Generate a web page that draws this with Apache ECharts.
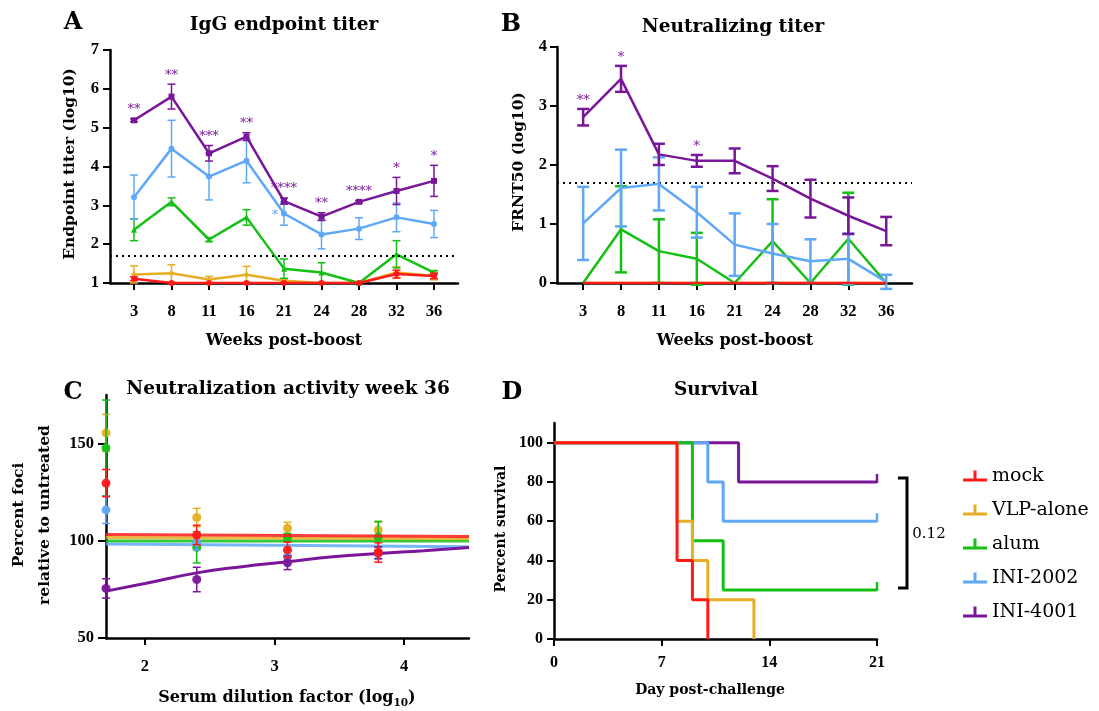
<!DOCTYPE html>
<html><head><meta charset="utf-8">
<script src="https://cdn.jsdelivr.net/npm/echarts@6/dist/echarts.min.js"></script>
<style>html,body{margin:0;padding:0;background:#fff}#c{width:1099px;height:711px}</style>
</head><body><div id="c"></div>
<script>
// ---------- data ----------
const groups = ['mock', 'VLP-alone', 'alum', 'INI-2002', 'INI-4001'];
const colors = ['#ff1a1a', '#e6ae22', '#14c014', '#5ea8f7', '#7a1699'];
const weeks = ['3', '8', '11', '16', '21', '24', '28', '32', '36'];

// Panel A: IgG endpoint titer (log10)
const A_mock = [1.11, 1.0, 1.0, 1.0, 1.0, 1.0, 1.0, 1.23, 1.18];
const A_mock_err = [0.05, 0, 0, 0, 0, 0, 0, 0.1, 0.07];
const A_vlp = [1.22, 1.25, 1.09, 1.21, 1.06, 1.0, 1.0, 1.27, 1.18];
const A_vlp_err = [0.22, 0.22, 0.08, 0.22, 0.04, 0, 0, 0.15, 0.1];
const A_alum = [2.37, 3.09, 2.12, 2.69, 1.37, 1.27, 1.0, 1.74, 1.27];
const A_alum_err = [0.28, 0.1, 0.05, 0.2, 0.25, 0.25, 0, 0.35, 0.05];
const A_2002 = [3.21, 4.46, 3.74, 4.15, 2.79, 2.25, 2.40, 2.69, 2.52];
const A_2002_err = [0.57, 0.73, 0.6, 0.57, 0.3, 0.37, 0.28, 0.37, 0.35];
const A_4001 = [5.19, 5.80, 4.34, 4.77, 3.11, 2.71, 3.09, 3.37, 3.63];
const A_4001_err = [0.04, 0.32, 0.2, 0.1, 0.08, 0.1, 0.03, 0.35, 0.4];
const A_stars = ['**', '**', '***', '**', '****', '**', '****', '*', '*'];
const A_lod = 1.7;

// Panel B: FRNT50 (log10)
const B_mock = [0, 0, 0, 0, 0, 0, 0, 0, 0];
const B_vlp = [0, 0, 0, 0, 0, 0, 0, 0, 0];
const B_alum = [0, 0.91, 0.54, 0.41, 0, 0.71, 0, 0.75, 0];
const B_alum_err = [0, 0.73, 0.54, 0.44, 0, 0.71, 0, 0.78, 0];
const B_2002 = [1.01, 1.61, 1.68, 1.20, 0.65, 0.50, 0.37, 0.41, 0.02];
const B_2002_err = [0.62, 0.65, 0.45, 0.43, 0.53, 0.5, 0.37, 0.43, 0.12];
const B_4001 = [2.81, 3.46, 2.18, 2.07, 2.07, 1.77, 1.43, 1.14, 0.88];
const B_4001_err = [0.14, 0.22, 0.18, 0.1, 0.21, 0.21, 0.32, 0.31, 0.24];
const B_stars = ['**', '*', '', '*', '', '', '', '', ''];
const B_lod = 1.7;

// Panel C: percent foci vs serum dilution (log10)
const C_x = [1.7, 2.4, 3.1, 3.8];
const C_mock = [129.7, 103, 95.3, 94];
const C_mock_err = [7, 5, 4, 5];
const C_vlp = [155.5, 112, 106.5, 105.6];
const C_vlp_err = [9.5, 4.7, 3, 4];
const C_alum = [147.8, 96.6, 101.8, 102];
const C_alum_err = [24.6, 8, 2, 8];
const C_2002 = [115.9, 99.2, 91.8, 93.5];
const C_2002_err = [7, 4, 3, 3];
const C_4001 = [75.5, 80.1, 88.7, 93.9];
const C_4001_err = [5, 6.3, 3.5, 3];
const C_fit_x2 = [1.7, 4.5];
const C_fit_mock = [103.2, 102.2];
const C_fit_vlp = [101.7, 101.1];
const C_fit_alum = [99.9, 99.9];
const C_fit_2002 = [98.4, 97.0];
const C_fit_x = [1.7, 2.0, 2.4, 2.75, 3.1, 3.45, 3.8, 4.15, 4.5];
const C_fit_4001 = [74.1, 78.0, 83.5, 86.7, 89.2, 91.8, 93.5, 94.9, 96.5];

// Panel D: survival (day, percent)
const D_mock = [[0, 100], [8, 40], [9, 20], [10, 0]];
const D_vlp = [[0, 100], [8, 60], [9, 40], [10, 20], [13, 0]];
const D_alum = [[0, 100], [9, 50], [11, 25], [21, 25]];
const D_2002 = [[0, 100], [10, 80], [11, 60], [21, 60]];
const D_4001 = [[0, 100], [12, 80], [21, 80]];

// ---------- helpers ----------
const SERIF = "'DejaVu Serif', serif";
const TICKF = "'Liberation Serif', serif";
const idx = weeks.map((_, i) => i);

function axisBase(extra) {
  return Object.assign({
    type: 'value',
    splitLine: { show: false },
    axisLine: { show: true, onZero: false, lineStyle: { color: '#000', width: 2.5 } },
    axisTick: { show: true, length: 7, lineStyle: { color: '#000', width: 2 } },
    axisLabel: { color: '#000', fontFamily: TICKF, fontWeight: 'bold', fontSize: 16 }
  }, extra);
}

function errSeries(color, xs, ys, es, ai, cap, lw, z) {
  const data = xs.map((x, i) => [x, ys[i], es[i]]).filter(d => d[2] > 0);
  return {
    type: 'custom', xAxisIndex: ai, yAxisIndex: ai, z: z, silent: true,
    itemStyle: { color: color },
    encode: { x: 0, y: 1 },
    renderItem: function (params, api) {
      const x = api.value(0), y = api.value(1), e = api.value(2);
      const t = api.coord([x, y + e]), b = api.coord([x, y - e]);
      const st = { stroke: color, lineWidth: lw };
      return { type: 'group', children: [
        { type: 'line', shape: { x1: t[0], y1: t[1], x2: b[0], y2: b[1] }, style: st },
        { type: 'line', shape: { x1: t[0] - cap, y1: t[1], x2: t[0] + cap, y2: t[1] }, style: st },
        { type: 'line', shape: { x1: b[0] - cap, y1: b[1], x2: b[0] + cap, y2: b[1] }, style: st }
      ] };
    },
    data: data
  };
}

function starSeries(color, xs, tops, labels, ai, dy) {
  const data = xs.map((x, i) => [x, tops[i], i]).filter(d => labels[d[2]]);
  return {
    type: 'custom', xAxisIndex: ai, yAxisIndex: ai, z: 20, silent: true,
    encode: { x: 0, y: 1 },
    renderItem: function (params, api) {
      const p = api.coord([api.value(0), api.value(1)]);
      return { type: 'text', x: p[0], y: p[1] - dy,
        style: { text: labels[api.value(2)], fill: color, font: '13px ' + SERIF,
          textAlign: 'center', textVerticalAlign: 'middle', align: 'center', verticalAlign: 'middle' } };
    },
    data: data
  };
}

const series = [];
const order = [1, 2, 3, 4, 0]; // draw mock last (on top)
const A_vals = [A_mock, A_vlp, A_alum, A_2002, A_4001];
const A_errs = [A_mock_err, A_vlp_err, A_alum_err, A_2002_err, A_4001_err];
const A_sym = ['circle', 'diamond', 'triangle', 'circle', 'rect'];
const B_vals = [B_mock, B_vlp, B_alum, B_2002, B_4001];
const B_errs = [null, null, B_alum_err, B_2002_err, B_4001_err];
const C_vals = [C_mock, C_vlp, C_alum, C_2002, C_4001];
const C_errs = [C_mock_err, C_vlp_err, C_alum_err, C_2002_err, C_4001_err];
const D_vals = [D_mock, D_vlp, D_alum, D_2002, D_4001];

// Panel D first so legend picks these colours
[4, 3, 2, 1, 0].forEach((g, k) => {
  series.push({
    type: 'line', name: groups[g], xAxisIndex: 3, yAxisIndex: 3, step: 'end',
    data: D_vals[g], symbol: 'none', z: 5 + k,
    lineStyle: { color: colors[g], width: 3 }, itemStyle: { color: colors[g] }
  });
});
// censor ticks at day 21
series.push({
  type: 'custom', xAxisIndex: 3, yAxisIndex: 3, z: 12, silent: true,
  encode: { x: 0, y: 1 },
  renderItem: function (params, api) {
    const p = api.coord([api.value(0), api.value(1)]);
    const c = colors[api.value(2)];
    return { type: 'line', shape: { x1: p[0], y1: p[1] + 1, x2: p[0], y2: p[1] - 8 },
      style: { stroke: c, lineWidth: 2.5 } };
  },
  data: [2, 3, 4].map(g => [D_vals[g][D_vals[g].length - 1][0], D_vals[g][D_vals[g].length - 1][1], g])
});

order.forEach((g, k) => {
  // A
  series.push(errSeries(colors[g], idx, A_vals[g], A_errs[g], 0, 4, 1.5, 3 + k));
  series.push({
    type: 'line', name: groups[g], xAxisIndex: 0, yAxisIndex: 0,
    data: idx.map(i => [i, A_vals[g][i]]), symbol: A_sym[g], symbolSize: 6, z: 3 + k,
    lineStyle: { color: colors[g], width: 2.5 }, itemStyle: { color: colors[g] },
    markLine: g === 0 ? { silent: true, symbol: 'none', label: { show: false },
      lineStyle: { type: [2, 4], color: '#000', width: 2 }, data: [{ yAxis: A_lod }] } : undefined
  });
  // B
  if (B_errs[g]) series.push(errSeries(colors[g], idx, B_vals[g], B_errs[g], 1, 6, 2.5, 3 + k));
  series.push({
    type: 'line', name: groups[g], xAxisIndex: 1, yAxisIndex: 1,
    data: idx.map(i => [i, B_vals[g][i]]), symbol: 'none', z: 3 + k,
    lineStyle: { color: colors[g], width: 2.5 }, itemStyle: { color: colors[g] },
    markLine: g === 0 ? { silent: true, symbol: 'none', label: { show: false },
      lineStyle: { type: [2, 4], color: '#000', width: 2 }, data: [{ yAxis: B_lod }] } : undefined
  });
  // C points
  series.push(errSeries(colors[g], C_x, C_vals[g], C_errs[g], 2, 4, 1.5, 3 + k));
  series.push({
    type: 'scatter', name: groups[g], xAxisIndex: 2, yAxisIndex: 2,
    data: C_x.map((x, i) => [x, C_vals[g][i]]), symbolSize: 9, z: 3 + k,
    itemStyle: { color: colors[g], opacity: 0.95 }
  });
});
// C fits
const C_fits2 = [C_fit_mock, C_fit_vlp, C_fit_alum, C_fit_2002];
[3, 2, 1, 0].forEach((g, k) => {
  series.push({
    type: 'line', name: groups[g], xAxisIndex: 2, yAxisIndex: 2, symbol: 'none', z: 2 + k,
    data: C_fit_x2.map((x, i) => [x, C_fits2[g][i]]),
    lineStyle: { color: colors[g], width: 3, opacity: 0.85 }, itemStyle: { color: colors[g] }
  });
});
series.push({
  type: 'line', name: groups[4], xAxisIndex: 2, yAxisIndex: 2, symbol: 'none', smooth: true, z: 6,
  data: C_fit_x.map((x, i) => [x, C_fit_4001[i]]),
  lineStyle: { color: colors[4], width: 3 }, itemStyle: { color: colors[4] }
});
// stars
series.push(starSeries(colors[4], idx, A_4001.map((v, i) => v + A_4001_err[i]), A_stars, 0, 9));
series.push(starSeries(colors[4], idx, B_4001.map((v, i) => v + B_4001_err[i]), B_stars, 1, 8));
series.push({
  type: 'custom', xAxisIndex: 0, yAxisIndex: 0, z: 20, silent: true, encode: { x: 0, y: 1 },
  renderItem: function (params, api) {
    const p = api.coord([api.value(0), api.value(1)]);
    return { type: 'text', x: p[0] - 9, y: p[1] + 2,
      style: { text: '*', fill: colors[3], font: '13px ' + SERIF, textAlign: 'center', textVerticalAlign: 'middle', align: 'center', verticalAlign: 'middle' } };
  },
  data: [[4, A_2002[4]]]
});

function txt(text, x, y, font, opts) {
  return Object.assign({ type: 'text', x: x, y: y, silent: true,
    style: Object.assign({ text: text, font: font, fill: '#000', textAlign: 'center', textVerticalAlign: 'middle', align: 'center', verticalAlign: 'middle' }, (opts && opts.style) || {}) },
    (opts && opts.el) || {});
}
const R90 = { el: { rotation: Math.PI / 2 } };
const TITLE = 'bold 18.5px ' + SERIF;
const LET = 'bold 24px ' + SERIF;
const NAME = 'bold 15.5px ' + SERIF;

const graphics = [
  txt('A', 73, 23, LET), txt('IgG endpoint titer', 284, 25, TITLE),
  txt('B', 511, 25, LET), txt('Neutralizing titer', 733, 27, TITLE),
  txt('C', 73, 393, LET), txt('Neutralization activity week 36', 288, 389, TITLE),
  txt('D', 512, 393, LET), txt('Survival', 716, 390, TITLE),
  txt('Endpoint titer (log10)', 70, 164, NAME, R90),
  txt('Weeks post-boost', 284, 341, 'bold 16px ' + SERIF),
  txt('FRNT50 (log10)', 519, 162, NAME, R90),
  txt('Weeks post-boost', 735, 341, 'bold 16px ' + SERIF),
  txt('Percent foci', 19, 515, NAME, R90),
  txt('relative to untreated', 45, 515, NAME, R90),
  { type: 'text', x: 287, y: 698, silent: true, style: {
      text: '{a|Serum dilution factor (log}{s|10}{a|)}', align: 'center', verticalAlign: 'middle', textAlign: 'center', textVerticalAlign: 'middle',
      rich: { a: { font: 'bold 16px ' + SERIF, lineHeight: 22, verticalAlign: 'middle', fill: '#000' },
              s: { font: 'bold 10.5px ' + SERIF, lineHeight: 10, verticalAlign: 'bottom', fill: '#000' } } } },
  txt('Percent survival', 501, 529, 'bold 14px ' + SERIF, R90),
  txt('Day post-challenge', 710, 690, 'bold 14px ' + SERIF),
  { type: 'polyline', silent: true, shape: { points: [[898, 478], [907, 478], [907, 588], [898, 588]] },
    style: { stroke: '#000', lineWidth: 3, fill: null } },
  txt('0.12', 929, 534, '15px ' + SERIF)
];

const option = {
  animation: false,
  backgroundColor: '#fff',
  grid: [
    { left: 110, top: 50, width: 348, height: 233 },
    { left: 557, top: 47, width: 355, height: 236 },
    { left: 106, top: 395, width: 363, height: 243 },
    { left: 554, top: 423, width: 323, height: 216 }
  ],
  xAxis: [
    axisBase({ gridIndex: 0, min: -0.64, max: 8.64,
      axisTick: { show: true, length: 7, lineStyle: { color: '#000', width: 2 }, customValues: idx },
      axisLabel: { color: '#000', fontFamily: TICKF, fontWeight: 'bold', fontSize: 16.5, margin: 20, customValues: idx, formatter: v => weeks[Math.round(v)] } }),
    axisBase({ gridIndex: 1, min: -0.69, max: 8.68,
      axisTick: { show: true, length: 7, lineStyle: { color: '#000', width: 2 }, customValues: idx },
      axisLabel: { color: '#000', fontFamily: TICKF, fontWeight: 'bold', fontSize: 16.5, margin: 20, customValues: idx, formatter: v => weeks[Math.round(v)] } }),
    axisBase({ gridIndex: 2, min: 1.7, max: 4.5,
      axisTick: { show: true, length: 7, lineStyle: { color: '#000', width: 2 }, customValues: [2, 3, 4] },
      axisLabel: { color: '#000', fontFamily: TICKF, fontWeight: 'bold', fontSize: 16.5, margin: 20, customValues: [2, 3, 4] } }),
    axisBase({ gridIndex: 3, min: 0, max: 21, interval: 7,
      axisLabel: { color: '#000', fontFamily: TICKF, fontWeight: 'bold', fontSize: 16, margin: 16 } })
  ],
  yAxis: [
    axisBase({ gridIndex: 0, min: 1, max: 7, interval: 1, axisLabel: { color: '#000', fontFamily: TICKF, fontWeight: 'bold', fontSize: 16.5, margin: 11 } }),
    axisBase({ gridIndex: 1, min: 0, max: 4, interval: 1, axisLabel: { color: '#000', fontFamily: TICKF, fontWeight: 'bold', fontSize: 16.5, margin: 10 } }),
    axisBase({ gridIndex: 2, min: 50, max: 175,
      axisTick: { show: true, length: 8, lineStyle: { color: '#000', width: 2 }, customValues: [50, 100, 150] },
      axisLabel: { color: '#000', fontFamily: TICKF, fontWeight: 'bold', fontSize: 16.5, margin: 12, customValues: [50, 100, 150] } }),
    axisBase({ gridIndex: 3, min: 0, max: 110,
      axisTick: { show: true, length: 7, lineStyle: { color: '#000', width: 2 }, customValues: [0, 20, 40, 60, 80, 100] },
      axisLabel: { color: '#000', fontFamily: TICKF, fontWeight: 'bold', fontSize: 16, margin: 11, customValues: [0, 20, 40, 60, 80, 100] } })
  ],
  legend: {
    orient: 'vertical', left: 958, top: 461, selectedMode: false,
    itemWidth: 24, itemHeight: 12, itemGap: 14,
    data: groups.map(n => ({ name: n, icon: 'path://M0,9h24v3H0z M10.5,1h3v9h-3z' })),
    textStyle: { fontFamily: SERIF, fontSize: 19, color: '#000', lineHeight: 20 }
  },
  graphic: graphics,
  series: series
};
const chart = echarts.init(document.getElementById('c'), null, { renderer: 'canvas' });
chart.setOption(option);
</script></body></html>
